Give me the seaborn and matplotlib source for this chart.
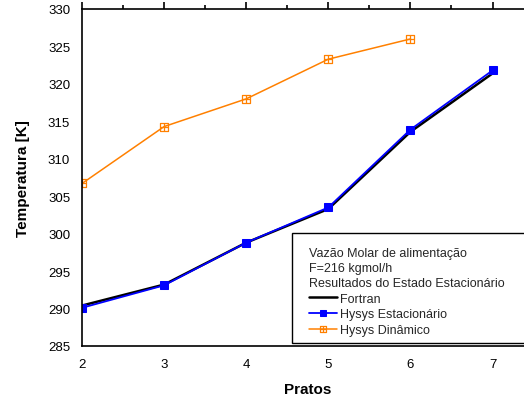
import matplotlib
matplotlib.use("Agg")
import matplotlib.pyplot as plt
import seaborn as sns
from matplotlib.path import Path
from matplotlib.patches import Rectangle
from matplotlib.ticker import MultipleLocator

pratos = [2, 3, 4, 5, 6, 7]
fortran = [290.4, 293.2, 298.8, 303.3, 313.6, 321.4]
hysys_est = [290.1, 293.1, 298.8, 303.5, 313.9, 321.8]
pratos_din = [2, 3, 4, 5, 6]
hysys_din = [306.7, 314.3, 318.0, 323.3, 326.0]

sns.set_theme(style="white")
plt.rcParams['font.family'] = ['Liberation Sans', 'DejaVu Sans']

W, H = 524, 402
fig = plt.figure(figsize=(W/100, H/100), dpi=100)
ax = fig.add_axes([82/W, 55/H, 451.6/W, 337/H])

orange = '#FF8000'
blue = '#0000FF'

boxplus = Path([(-1, -1), (1, -1), (1, 1), (-1, 1), (-1, -1), (0, -1), (0, 1), (-1, 0), (1, 0)],
               [Path.MOVETO, Path.LINETO, Path.LINETO, Path.LINETO, Path.CLOSEPOLY,
                Path.MOVETO, Path.LINETO, Path.MOVETO, Path.LINETO])

sns.lineplot(x=pratos, y=fortran, ax=ax, color='black', linewidth=1.8, label='Fortran')
sns.lineplot(x=pratos, y=hysys_est, ax=ax, color=blue, linewidth=1.3, marker='s',
             markersize=5.5, markeredgecolor=blue, markerfacecolor=blue, label='Hysys Estacionário')
sns.lineplot(x=pratos_din, y=hysys_din, ax=ax, color=orange, linewidth=1.1, marker=boxplus,
             markersize=5.5, markeredgecolor=orange, markerfacecolor='none', markeredgewidth=0.9,
             label='Hysys Dinâmico')

ax.set_xlim(2, 7.5)
ax.set_ylim(285, 330)
ax.xaxis.set_major_locator(MultipleLocator(1))
ax.xaxis.set_minor_locator(MultipleLocator(0.5))
ax.yaxis.set_major_locator(MultipleLocator(5))
ax.yaxis.set_minor_locator(MultipleLocator(2.5))
ax.tick_params(which='both', direction='out', color='black', top=True, right=True,
               labeltop=False, labelright=False, labelsize=9.5, labelcolor='black')
ax.tick_params(which='major', length=5, width=1.2)
ax.tick_params(which='minor', length=3, width=1.2)
for s in ax.spines.values():
    s.set_color('black')
    s.set_linewidth(1.2)

ax.set_xlabel('Pratos', fontsize=11, fontweight='bold', color='black', labelpad=9)
ax.set_ylabel('Temperatura [K]', fontsize=11, fontweight='bold', color='black', labelpad=13)

# legend frame
frame = Rectangle((292/W, 1 - 344/H), 260/W, 110/H, transform=fig.transFigure,
                  facecolor='white', edgecolor='black', linewidth=1.0, zorder=4, clip_on=False)
ax.add_artist(frame)

leg = ax.legend(title='Vazão Molar de alimentação\nF=216 kgmol/h\nResultados do Estado Estacionário',
                loc='upper left', bbox_to_anchor=(309/W, 1 - 248/H),
                bbox_transform=fig.transFigure, fontsize=9, title_fontsize=9,
                alignment='left', frameon=False, handlelength=2.2, handletextpad=0.25,
                borderpad=0, labelspacing=0.3, borderaxespad=0, markerscale=0.75)
leg.get_title().set_linespacing(1.33)
leg.set_zorder(5)

fig.savefig('out.png', dpi=100)
